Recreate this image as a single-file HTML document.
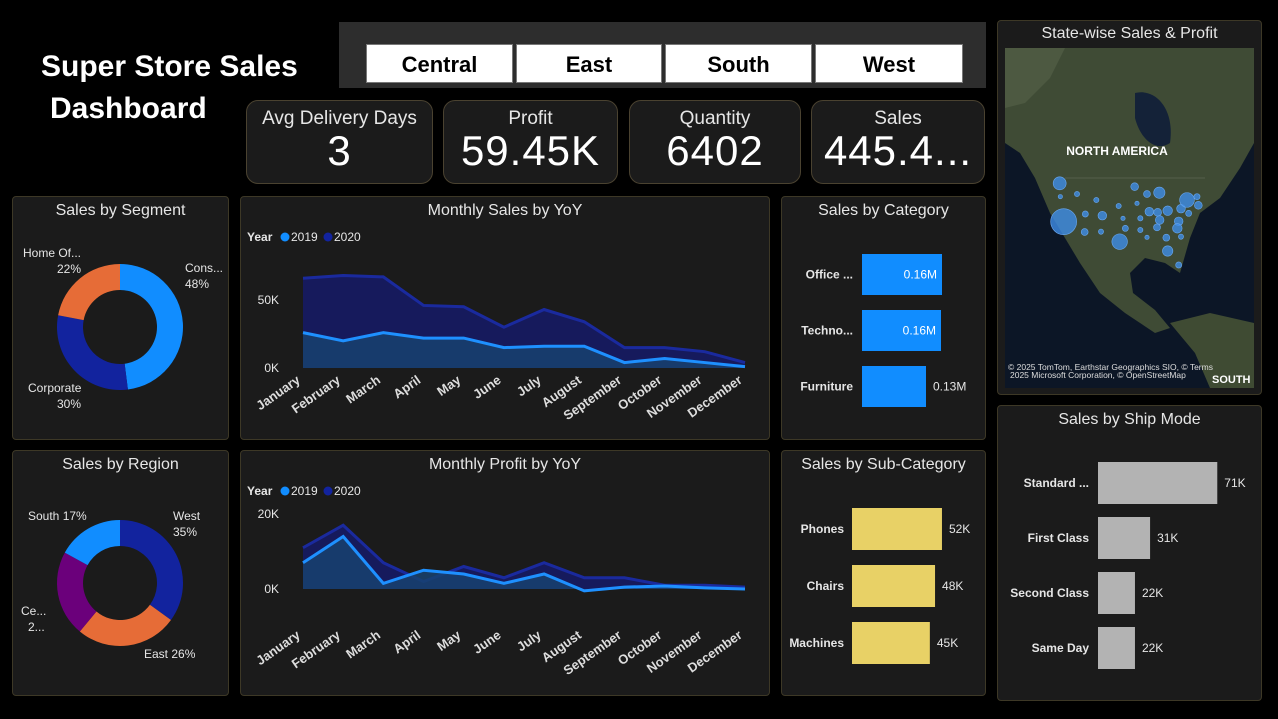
<!DOCTYPE html>
<html><head><meta charset="utf-8"><style>
*{box-sizing:border-box;margin:0;padding:0}
body{width:1278px;height:719px;background:#000;font-family:"Liberation Sans",sans-serif;color:#fff;position:relative;overflow:hidden}
.abs{position:absolute}
.panel{position:absolute;background:#1b1b1b;border:1px solid #3d3826;border-radius:4px}
.ptitle{position:absolute;left:0;right:0;text-align:center;font-size:16px;color:#e6e6e6;top:5px}
.btn{position:absolute;top:44px;height:39px;background:#fff;color:#000;font-weight:bold;font-size:22px;text-align:center;line-height:39px;border:1px solid #777}
.kpi{position:absolute;top:100px;height:84px;background:#1b1b1b;border:1px solid #4a4230;border-radius:12px;text-align:center}
.kpi .l{font-size:19px;color:#e6e6e6;margin-top:7px}
.kpi .v{font-size:42px;line-height:42px;color:#fff;letter-spacing:1px}
svg text{font-family:"Liberation Sans",sans-serif}
</style></head><body>
<div class="abs" style="left:41px;top:46px;font-size:30px;font-weight:bold;line-height:42px">Super Store Sales<br><span style="margin-left:9px">Dashboard</span></div>
<div class="abs" style="left:339px;top:22px;width:647px;height:66px;background:#2d2d2d"></div>
<div class="btn" style="left:366px;width:147px">Central</div>
<div class="btn" style="left:516px;width:146px">East</div>
<div class="btn" style="left:665px;width:147px">South</div>
<div class="btn" style="left:815px;width:148px">West</div>
<div class="kpi" style="left:246px;width:187px"><div class="l">Avg Delivery Days</div><div class="v">3</div></div>
<div class="kpi" style="left:443px;width:175px"><div class="l">Profit</div><div class="v">59.45K</div></div>
<div class="kpi" style="left:629px;width:172px"><div class="l">Quantity</div><div class="v">6402</div></div>
<div class="kpi" style="left:811px;width:174px"><div class="l">Sales</div><div class="v">445.4...</div></div>

<div class="panel" style="left:12px;top:196px;width:217px;height:244px"><div class="ptitle">Sales by Segment</div></div>
<div class="panel" style="left:240px;top:196px;width:530px;height:244px"><div class="ptitle">Monthly Sales by YoY</div></div>
<div class="panel" style="left:781px;top:196px;width:205px;height:244px"><div class="ptitle">Sales by Category</div></div>
<div class="panel" style="left:12px;top:450px;width:217px;height:246px"><div class="ptitle">Sales by Region</div></div>
<div class="panel" style="left:240px;top:450px;width:530px;height:246px"><div class="ptitle">Monthly Profit by YoY</div></div>
<div class="panel" style="left:781px;top:450px;width:205px;height:246px"><div class="ptitle">Sales by Sub-Category</div></div>
<div class="panel" style="left:997px;top:20px;width:265px;height:375px"><div class="ptitle" style="top:4px">State-wise Sales &amp; Profit</div></div>
<div class="panel" style="left:997px;top:405px;width:265px;height:296px"><div class="ptitle">Sales by Ship Mode</div></div>

<svg id="map" class="abs" style="left:1005px;top:48px" width="249" height="340">
<rect width="249" height="340" fill="#0c1626"/>
<path d="M0,0 L249,0 L249,95 L235,120 L215,150 L195,165 L185,190 L175,225 L160,215 L140,210 L125,225 L128,245 L150,262 L165,280 L150,285 L120,265 L95,245 L75,215 L60,190 L45,165 L30,130 L15,105 L0,95 Z" fill="#3f4b35"/>
<path d="M130,45 C150,40 170,60 165,95 C150,105 135,90 130,70 Z" fill="#142238"/>
<path d="M165,275 L205,265 L249,275 L249,340 L205,340 L190,305 Z" fill="#3f4b33"/>
<path d="M0,0 L60,0 L45,30 L20,55 L0,60 Z" fill="#56634a" opacity=".6"/>
<path d="M60,130 L200,130" stroke="#8a9080" stroke-width=".6" opacity=".6"/>
<text x="112" y="107" font-size="12" font-weight="bold" fill="#fff" text-anchor="middle">NORTH AMERICA</text>
<text x="3" y="322" font-size="8.5" fill="#ddd">© 2025 TomTom, Earthstar Geographics SIO, © Terms</text>
<text x="5" y="330" font-size="8.5" fill="#ddd">2025 Microsoft Corporation, © OpenStreetMap</text>
<text x="207" y="335" font-size="11" font-weight="bold" fill="#fff">SOUTH</text>
</svg>

<svg id="charts" class="abs" style="left:0;top:0" width="1278" height="719"></svg>
<script>
const months=["January","February","March","April","May","June","July","August","September","October","November","December"];
const sales2019=[26,20,26,22,22,15,16,16,4,7,4,1];
const sales2020=[66,68,67,46,45,30,43,34,15,15,12,4];
const profit2019=[7,14,1.5,5,4,1.5,4,-0.5,0.5,0.8,0.3,0];
const profit2020=[11,17,7,2,6,3,7,3,3,1,1,0.5];
const segLabels=["Cons...","Corporate","Home Of..."];
const segValues=[48,30,22];
const regLabels=["West","East","Ce...","South"];
const regValues=[35,26,22,17];
const catLabels=["Office ...","Techno...","Furniture"];
const catValues=[0.16,0.158,0.128];
const subLabels=["Phones","Chairs","Machines"];
const subValues=[52,48,45];
const shipLabels=["Standard ...","First Class","Second Class","Same Day"];
const shipValues=[71,31,22,22];
const mapBubbles=[[188,490,15],[200,605,30],[240,522,6],[190,530,5],[265,582,7],[263,636,8],[298,540,6],[316,587,10],[312,635,6],[368,665,18],[365,558,6],[378,595,5],[385,625,7],[413,500,9],[420,550,5],[430,595,6],[430,630,6],[450,522,8],[487,518,13],[457,575,10],[482,577,9],[512,572,11],[488,600,10],[480,622,8],[508,653,8],[512,693,12],[545,604,10],[541,625,11],[552,566,10],[570,540,17],[600,530,7],[604,556,9],[575,580,7],[552,650,6],[450,652,5],[545,735,7]];

const svg=document.getElementById('charts');const NS='http://www.w3.org/2000/svg';
function mk(t,a,p){const e=document.createElementNS(NS,t);for(const k in a)e.setAttribute(k,a[k]);(p||svg).appendChild(e);return e;}
function txt(x,y,s,a,p){const e=mk('text',Object.assign({x:x,y:y,fill:'#e6e6e6','font-size':12},a),p);e.textContent=s;return e;}

const msvg=document.getElementById('map');
mapBubbles.forEach(b=>{const c=mk('circle',{cx:b[0]/3-8,cy:b[1]/3-28,r:b[2]/3*1.3,fill:'#3f8de8','fill-opacity':.8,stroke:'#6aa8f0','stroke-width':.6},msvg);

});

function legend(y){txt(247,y,'Year',{'font-weight':'bold','font-size':12});
mk('circle',{cx:285,cy:y-4,r:4.5,fill:'#118dff'});txt(291,y,'2019');
mk('circle',{cx:328,cy:y-4,r:4.5,fill:'#12239e'});txt(334,y,'2020');}

function area(s19,s20,y0,pxPerK,ticks,yLabel){
  const x0=303,x1=745;const sx=i=>x0+i*(x1-x0)/(months.length-1);const sy=v=>y0-v*pxPerK;
  [[s20,'#161a5c','#1a2a9e'],[s19,'#17426e','#1e90ff']].forEach(([d,f,l],k)=>{
    let p='M'+sx(0)+','+y0;d.forEach((v,i)=>p+=' L'+sx(i)+','+sy(v));p+=' L'+sx(d.length-1)+','+y0+'Z';
    const a=mk('path',{d:p,fill:f,'fill-opacity':k?0.85:1});
    
    
    const pl=mk('polyline',{points:d.map((v,i)=>sx(i)+','+sy(v)).join(' '),fill:'none',stroke:l,'stroke-width':3});
    
    
  });
  ticks.forEach(t=>txt(279,sy(t)+4,t+'K',{'text-anchor':'end','font-size':12}));
  months.forEach((m,i)=>{const e=txt(sx(i)-2,yLabel,m,{'text-anchor':'end','font-size':13,'font-weight':'bold',fill:'#ddd',transform:'rotate(-35 '+(sx(i)-2)+' '+yLabel+')'});
    
    });
}
legend(241);area(sales2019,sales2020,368,1.36,[0,50],382);
legend(495);area(profit2019,profit2020,589,3.75,[0,20],637);

function donut(cx,cy,ro,ri,vals,cols,name){
  const tot=vals.reduce((a,b)=>a+b,0);let a0=-Math.PI/2;
  vals.forEach((v,i)=>{const a1=a0+v/tot*2*Math.PI;const L=(a1-a0)>Math.PI?1:0;
    const p=(r,a)=>(cx+r*Math.cos(a))+','+(cy+r*Math.sin(a));
    const s=mk('path',{d:'M'+p(ro,a0)+' A'+ro+','+ro+' 0 '+L+' 1 '+p(ro,a1)+' L'+p(ri,a1)+' A'+ri+','+ri+' 0 '+L+' 0 '+p(ri,a0)+'Z',fill:cols[i]});
    
    
    a0=a1;});
}
donut(120,327,63,37,segValues,['#118dff','#12239e','#e66c37'],'segment');
txt(185,272,segLabels[0]);txt(185,288,segValues[0]+'%');
txt(28,392,segLabels[1]);txt(57,408,segValues[1]+'%');
txt(23,257,segLabels[2]);txt(57,273,segValues[2]+'%');
donut(120,583,63,37,regValues,['#12239e','#e66c37','#6b007b','#118dff'],'region');
txt(173,520,regLabels[0]);txt(173,536,regValues[0]+'%');
txt(144,658,regLabels[1]+' '+regValues[1]+'%');
txt(21,615,regLabels[2]);txt(28,631,'2...');
txt(28,520,regLabels[3]+' '+regValues[3]+'%');

function bars(labels,vals,x0,pxPer,y0,h,gap,col,fmt,inside,labX){
  vals.forEach((v,i)=>{const y=y0+i*gap;const w=v*pxPer;
    const r=mk('rect',{x:x0,y:y,width:w,height:h,fill:col});
    
    
    txt(labX,y+h/2+4,labels[i],{'text-anchor':'end','font-weight':'bold','font-size':12});
    if(inside&&inside(i))txt(x0+w-5,y+h/2+4,fmt(v),{'text-anchor':'end',fill:'#fff'});
    else txt(x0+w+7,y+h/2+4,fmt(v),{});
  });
}
bars(catLabels,catValues,862,500,254,41,56,'#118dff',v=>v.toFixed(2)+'M',i=>i<2,853);
bars(subLabels,subValues,852,1.73,508,42,57,'#e8d166',v=>v+'K',null,844);
bars(shipLabels,shipValues,1098,1.68,462,42,55,'#b3b3b3',v=>v+'K',null,1089);
</script>
</body></html>
